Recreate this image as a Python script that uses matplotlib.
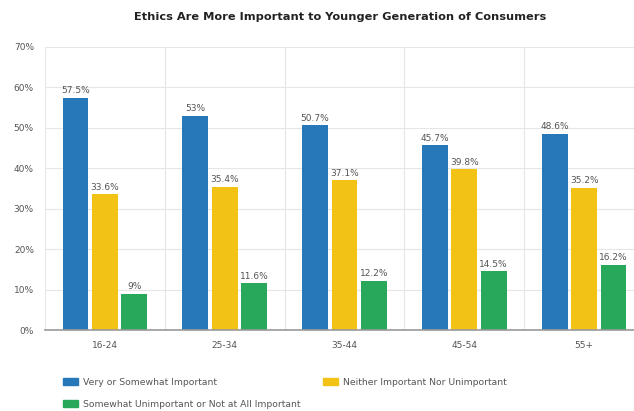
import numpy as np
import matplotlib.pyplot as plt
from matplotlib.patches import Patch

# survey results by age group (%)
age_groups = ['16-24', '25-34', '35-44', '45-54', '55+']
important = [57.5, 53, 50.7, 45.7, 48.6]
neither = [33.6, 35.4, 37.1, 39.8, 35.2]
unimportant = [9, 11.6, 12.2, 14.5, 16.2]
series_names = ['Very or Somewhat Important',
                'Neither Important Nor Unimportant',
                'Somewhat Unimportant or Not at All Important']
y_ticks = [0, 10, 20, 30, 40, 50, 60, 70]

colors = ['#2778b8', '#f2c314', '#27a85a']
text_color = '#555555'

fig = plt.figure(figsize=(6.34, 4.11), dpi=100)
# last group is partly cut off on the right edge
ax = fig.add_axes([45 / 634, 81 / 411, 599 / 634, 283 / 411])

x = np.arange(len(age_groups)) + 0.5
width = 0.215
step = 0.245
for i, vals in enumerate([important, neither, unimportant]):
    pos = x + (i - 1) * step
    bars = ax.bar(pos, vals, width, color=colors[i], zorder=3)
    for b, v in zip(bars, vals):
        ax.text(b.get_x() + b.get_width() / 2, v + 0.6, f'{v:g}%',
                ha='center', va='bottom', fontsize=6.5, color=text_color)

ax.set_xlim(0, len(age_groups))
ax.set_ylim(0, 70)
ax.set_yticks(y_ticks)
ax.set_yticklabels([f'{t}%' for t in y_ticks])
ax.set_xticks(x)
ax.set_xticklabels(age_groups)
ax.set_xticks(np.arange(len(age_groups) + 1), minor=True)
ax.tick_params(axis='both', which='both', length=0, labelsize=6.5,
               labelcolor=text_color, pad=8)
ax.grid(axis='y', color='#e6e6e6', linewidth=0.8, zorder=0)
ax.grid(axis='x', which='minor', color='#e6e6e6', linewidth=0.8, zorder=0)
ax.grid(axis='x', which='major', visible=False)
for s in ['top', 'right', 'left']:
    ax.spines[s].set_visible(False)
ax.spines['bottom'].set_color('#999999')
ax.spines['bottom'].set_linewidth(1.2)
ax.spines['bottom'].set_zorder(4)

fig.text(340 / 634, 1 - 17 / 411,
         'Ethics Are More Important to Younger Generation of Consumers',
         ha='center', va='center', fontsize=8.2, fontweight='bold', color='#222222')

handles = [Patch(color=colors[0], label=series_names[0]),
           Patch(color=colors[2], label=series_names[2]),
           Patch(color=colors[1], label=series_names[1])]
fig.legend(handles=handles, loc='upper left', ncol=2,
           bbox_to_anchor=(58 / 634, 1 - 373 / 411), frameon=False,
           fontsize=6.7, labelcolor=text_color, handlelength=1.6,
           handleheight=0.9, handletextpad=0.6, columnspacing=2.4,
           labelspacing=1.4, borderpad=0)

fig.savefig('out.png', dpi=100)
